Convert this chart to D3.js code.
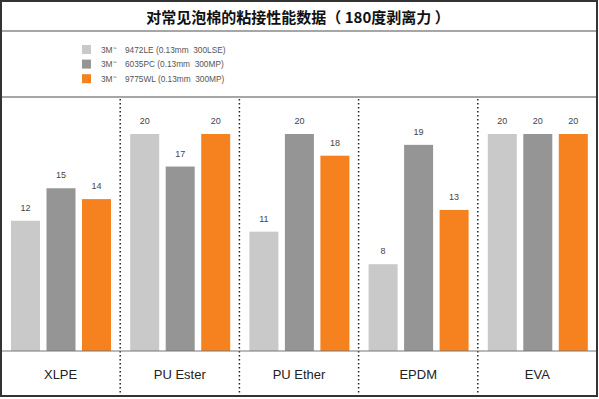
<!DOCTYPE html>
<html>
<head>
<meta charset="utf-8">
<script src="https://cdn.jsdelivr.net/npm/d3@7"></script>
<style>
  body { margin: 0; background: #fff; }
  svg { display: block; font-family: "Liberation Sans", Arial, sans-serif; }
  .leg text { white-space: pre; }
</style>
</head>
<body>
<div id="chart"></div>
<script>
// chart data
var title = "对常见泡棉的粘接性能数据（ 180度剥离力 ）";
var categories = ["XLPE", "PU Ester", "PU Ether", "EPDM", "EVA"];
var seriesNames = ["9472LE (0.13mm  300LSE)", "6035PC (0.13mm  300MP)", "9775WL (0.13mm  300MP)"];
var vals9472 = [12, 20, 11, 8, 20];
var vals6035 = [15, 17, 20, 19, 20];
var vals9775 = [14, 20, 18, 13, 20];
var colors = ["#c9c9c9", "#959595", "#f5821f"];

var width = 599, height = 399;
var plotTop = 134, plotBottom = 351;

var svg = d3.select("#chart").append("svg")
    .attr("width", width)
    .attr("height", height);

var series = [vals9472, vals6035, vals9775];
var data = categories.map(function(c, i) {
  return { cat: c, values: series.map(function(s, j) { return { key: j, value: s[i] }; }) };
});

var x0 = d3.scaleBand()
    .domain(categories)
    .range([1, 597])
    .padding(0);

var x1 = d3.scaleBand()
    .domain([0, 1, 2])
    .range([10, 110])
    .paddingInner(0.183)
    .paddingOuter(0);

var y = d3.scaleLinear()
    .domain([0, 20])
    .range([plotBottom, plotTop]);

// bars
var groups = svg.selectAll(".grp")
  .data(data)
  .enter().append("g")
    .attr("class", "grp")
    .attr("transform", function(d) { return "translate(" + x0(d.cat) + ",0)"; });

groups.selectAll("rect")
  .data(function(d) { return d.values; })
  .enter().append("rect")
    .attr("x", function(d) { return x1(d.key); })
    .attr("width", x1.bandwidth())
    .attr("y", function(d) { return y(d.value); })
    .attr("height", function(d) { return plotBottom - y(d.value); })
    .attr("fill", function(d) { return colors[d.key]; });

groups.selectAll(".val")
  .data(function(d) { return d.values; })
  .enter().append("text")
    .attr("class", "val")
    .attr("x", function(d) { return x1(d.key) + x1.bandwidth() / 2; })
    .attr("y", function(d) { return y(d.value) - 10; })
    .attr("text-anchor", "middle")
    .attr("font-size", 9)
    .attr("fill", "#444")
    .text(function(d) { return d.value; });

// category labels
svg.selectAll(".cat")
  .data(categories)
  .enter().append("text")
    .attr("class", "cat")
    .attr("x", function(d) { return x0(d) + x0.bandwidth() / 2; })
    .attr("y", 379)
    .attr("text-anchor", "middle")
    .attr("font-size", 13)
    .attr("fill", "#222")
    .text(function(d) { return d; });

// dotted separators
svg.selectAll(".sep")
  .data(categories.slice(1))
  .enter().append("line")
    .attr("class", "sep")
    .attr("x1", function(d) { return x0(d); })
    .attr("x2", function(d) { return x0(d); })
    .attr("y1", 99)
    .attr("y2", 395)
    .attr("stroke", "#222")
    .attr("stroke-width", 1.5)
    .attr("stroke-dasharray", "1.5,2.5");

// frame lines
svg.append("line")
    .attr("x1", 1).attr("x2", 597).attr("y1", plotBottom).attr("y2", plotBottom)
    .attr("stroke", "#777").attr("stroke-width", 1.2);
svg.append("line")
    .attr("x1", 1).attr("x2", 597).attr("y1", 31).attr("y2", 31)
    .attr("stroke", "#888").attr("stroke-width", 1.5);
svg.append("line")
    .attr("x1", 1).attr("x2", 597).attr("y1", 97).attr("y2", 97)
    .attr("stroke", "#888").attr("stroke-width", 1.5);
svg.append("rect")
    .attr("x", 1).attr("y", 1).attr("width", 596).attr("height", 395)
    .attr("fill", "none").attr("stroke", "#333").attr("stroke-width", 2);

// title
svg.append("text")
    .attr("x", 298)
    .attr("y", 23)
    .attr("text-anchor", "middle")
    .attr("font-family", "'Noto Sans CJK SC', sans-serif")
    .attr("font-weight", "bold")
    .attr("font-size", 15)
    .attr("fill", "#111")
    .text(title);

// legend
var legend = svg.selectAll(".leg")
  .data(seriesNames)
  .enter().append("g")
    .attr("class", "leg")
    .attr("transform", function(d, i) { return "translate(82," + (45 + i * 14.6) + ")"; });

legend.append("rect")
    .attr("width", 9).attr("height", 9)
    .attr("fill", function(d, i) { return colors[i]; });

var brand = legend.append("text")
    .attr("x", 19).attr("y", 7.5)
    .attr("font-size", 8.3)
    .attr("fill", "#555");
brand.append("tspan").text("3M");
brand.append("tspan").attr("font-size", 4).attr("dy", -3).text("™");

legend.append("text")
    .attr("x", 43).attr("y", 7.5)
    .attr("font-size", 8.3)
    .attr("fill", "#555")
    .text(function(d) { return d; });
</script>
</body>
</html>
